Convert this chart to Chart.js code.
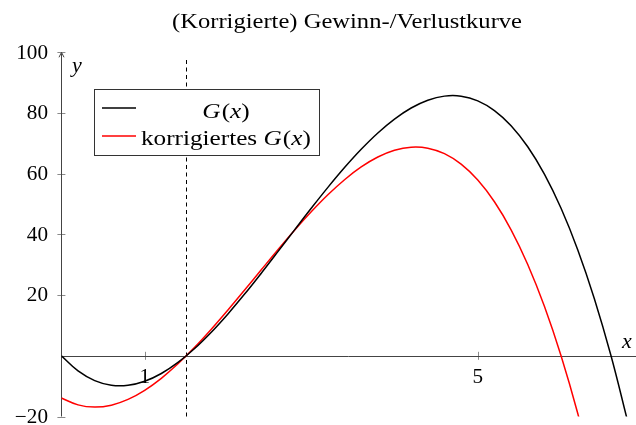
<!DOCTYPE html>
<html><head><meta charset="utf-8">
<script src="https://cdn.jsdelivr.net/npm/chart.js@4/dist/chart.umd.min.js"></script>
<style>html,body{margin:0;padding:0;background:#fff}#wrap{width:636px;height:425px}</style>
</head><body><div id="wrap"><canvas id="c" width="636" height="425"></canvas></div>
<script>
const chartTitle = '(Korrigierte) Gewinn-/Verlustkurve';
const seriesLabels = ['G(x)', 'korrigiertes G(x)'];
const xValues = [0,0.2,0.4,0.6,0.8,1.0,1.2,1.4,1.6,1.8,2.0,2.2,2.4,2.6,2.8,3.0,3.2,3.4,3.6,3.8,4.0,4.2,4.4,4.6,4.8,5.0,5.2,5.4,5.6,5.8,6.0,6.2,6.4,6.6,6.8];
const gValues = [0,-4.99,-8.18,-9.72,-9.74,-8.4,-5.83,-2.18,2.4,7.78,13.8,20.33,27.22,34.32,41.5,48.6,55.49,62.02,68.04,73.42,78.0,81.65,84.22,85.56,85.54,84.0,80.81,75.82,68.88,59.86,48.6,34.97,18.82,0,-21.62];
const xValuesCorr = [0,0.2,0.4,0.6,0.8,1.0,1.2,1.4,1.6,1.8,2.0,2.2,2.4,2.6,2.8,3.0,3.2,3.4,3.6,3.8,4.0,4.2,4.4,4.6,4.8,5.0,5.2,5.4,5.6,5.8,6.0,6.2,6.4];
const gCorrValues = [-13.91,-16.17,-16.91,-16.26,-14.36,-11.36,-7.41,-2.64,2.79,8.75,15.09,21.67,28.33,34.95,41.37,47.45,53.05,58.02,62.22,65.5,67.73,68.74,68.42,66.6,63.14,57.91,50.75,41.52,30.09,16.29,0,-18.94,-40.66];
const xTicks = [1, 5];
const yTicks = [-20, 20, 40, 60, 80, 100];
const markerX = 1.5;
const xRange = [0, 6.9];
const yRange = [-20, 100];
const seriesColors = ['#000000', '#ff0000'];

const FONT = '"Liberation Serif", "DejaVu Serif", serif';

function fillTextS(ctx, text, x, y, align, sx, font) {
  ctx.save();
  ctx.font = font;
  ctx.translate(x, y);
  ctx.scale(sx, 1);
  ctx.textAlign = align;
  ctx.fillText(text, 0, 0);
  ctx.restore();
}
function richSegments(label) {
  const parts = label.split('G(x)');
  const segs = [];
  parts.forEach((p, i) => {
    if (p) segs.push({t: p, it: false});
    if (i < parts.length - 1) {
      segs.push({t: 'G', it: true}, {t: '(', it: false}, {t: 'x', it: true}, {t: ')', it: false});
    }
  });
  return segs;
}
function segWidth(ctx, segs, size) {
  let w = 0;
  segs.forEach(s => { ctx.font = (s.it ? 'italic ' : '') + size + 'px ' + FONT; w += ctx.measureText(s.t).width + (s.it && s.t === 'G' ? 1 : 0); });
  return w;
}
function drawSegs(ctx, segs, x, y, size, sx) {
  ctx.save();
  ctx.translate(x, y);
  ctx.scale(sx, 1);
  ctx.textAlign = 'left';
  let cx = 0;
  segs.forEach(s => {
    ctx.font = (s.it ? 'italic ' : '') + size + 'px ' + FONT;
    ctx.fillText(s.t, cx, 0);
    cx += ctx.measureText(s.t).width + (s.it && s.t === 'G' ? 1 : 0);
  });
  ctx.restore();
}

const axesPlugin = {
  id: 'axesPlugin',
  beforeDatasetsDraw(chart) {
    const ctx = chart.ctx;
    const xs = chart.scales.x, ys = chart.scales.y;
    const x0 = xs.getPixelForValue(0), y0 = ys.getPixelForValue(0);
    const xl = xs.getPixelForValue(xRange[0]), xr = xs.getPixelForValue(xRange[1]);
    const yb = ys.getPixelForValue(yRange[0]), yt = ys.getPixelForValue(yRange[1]);
    ctx.save();
    ctx.strokeStyle = '#000';
    ctx.lineWidth = 1;
    ctx.setLineDash([4, 3.5]);
    const mx = Math.round(xs.getPixelForValue(markerX)) + 0.5;
    ctx.beginPath(); ctx.moveTo(mx, yb); ctx.lineTo(mx, ys.getPixelForValue(97.5)); ctx.stroke();
    ctx.setLineDash([]);
    ctx.strokeStyle = '#8a8a8a';
    yTicks.forEach(v => {
      const py = Math.round(ys.getPixelForValue(v)) + 0.5;
      ctx.beginPath(); ctx.moveTo(x0 - 4, py); ctx.lineTo(x0 + 4, py); ctx.stroke();
    });
    xTicks.forEach(v => {
      const px = Math.round(xs.getPixelForValue(v)) + 0.5;
      ctx.beginPath(); ctx.moveTo(px, y0 - 4); ctx.lineTo(px, y0 + 4); ctx.stroke();
    });
    ctx.strokeStyle = '#444';
    const ax = Math.round(x0) + 0.5, ay = Math.round(y0) + 0.5;
    ctx.beginPath(); ctx.moveTo(xl, ay); ctx.lineTo(xr, ay); ctx.stroke();
    ctx.beginPath(); ctx.moveTo(ax, yb); ctx.lineTo(ax, yt + 1); ctx.stroke();
    ctx.beginPath(); ctx.moveTo(ax - 2.5, yt + 5); ctx.lineTo(ax, yt); ctx.lineTo(ax + 2.5, yt + 5); ctx.stroke();
    ctx.fillStyle = '#000';
    ctx.textBaseline = 'middle';
    const tickFont = '20px ' + FONT;
    yTicks.forEach(v => {
      const txt = v < 0 ? '\u2212' + Math.abs(v) : String(v);
      fillTextS(ctx, txt, 48, ys.getPixelForValue(v) + 1, 'right', 1.06, tickFont);
    });
    ctx.textBaseline = 'alphabetic';
    xTicks.forEach(v => { fillTextS(ctx, String(v), xs.getPixelForValue(v), y0 + 27, 'center', 1.06, tickFont); });
    fillTextS(ctx, 'y', 72, 72, 'left', 1.1, 'italic 20px ' + FONT);
    fillTextS(ctx, 'x', 622, 348, 'left', 1.1, 'italic 20px ' + FONT);
    fillTextS(ctx, chartTitle, 347, 28, 'center', 1.17, '21px ' + FONT);
    ctx.restore();
  },
  afterDraw(chart) {
    const ctx = chart.ctx;
    ctx.save();
    ctx.fillStyle = '#fff';
    ctx.fillRect(94.5, 89.5, 225, 66);
    ctx.strokeStyle = '#333'; ctx.lineWidth = 1;
    ctx.strokeRect(94.5, 89.5, 225, 66);
    const rowsY = [108, 136];
    const baseY = [118, 145];
    seriesLabels.forEach((lab, i) => {
      ctx.strokeStyle = seriesColors[i]; ctx.lineWidth = 1.5;
      ctx.beginPath(); ctx.moveTo(102, rowsY[i]); ctx.lineTo(136, rowsY[i]); ctx.stroke();
    });
    ctx.fillStyle = '#000'; ctx.textBaseline = 'alphabetic';
    const sx = 1.2, size = 21;
    const segs = seriesLabels.map(richSegments);
    const widths = segs.map(s => segWidth(ctx, s, size) * sx);
    const colW = Math.max(...widths);
    const colX = 141;
    segs.forEach((s, i) => {
      drawSegs(ctx, s, colX + (colW - widths[i]) / 2, baseY[i], size, sx);
    });
    ctx.restore();
  }
};

const toPts = (xs, ys) => xs.map((x, i) => ({x: x, y: ys[i]}));

new Chart(document.getElementById('c'), {
  type: 'line',
  data: {
    datasets: [
      {label: seriesLabels[0], data: toPts(xValues, gValues), borderColor: seriesColors[0], borderWidth: 1.5, pointRadius: 0, tension: 0.4, fill: false},
      {label: seriesLabels[1], data: toPts(xValuesCorr, gCorrValues), borderColor: seriesColors[1], borderWidth: 1.5, pointRadius: 0, tension: 0.4, fill: false}
    ]
  },
  options: {
    responsive: false,
    animation: false,
    devicePixelRatio: 1,
    layout: {padding: {left: 61.4, right: 0, top: 52.3, bottom: 8.5}},
    plugins: {legend: {display: false}, title: {display: false}, tooltip: {enabled: false}},
    scales: {
      x: {type: 'linear', min: xRange[0], max: xRange[1], display: false},
      y: {type: 'linear', min: yRange[0], max: yRange[1], display: false}
    }
  },
  plugins: [axesPlugin]
});
</script>
</body></html>
